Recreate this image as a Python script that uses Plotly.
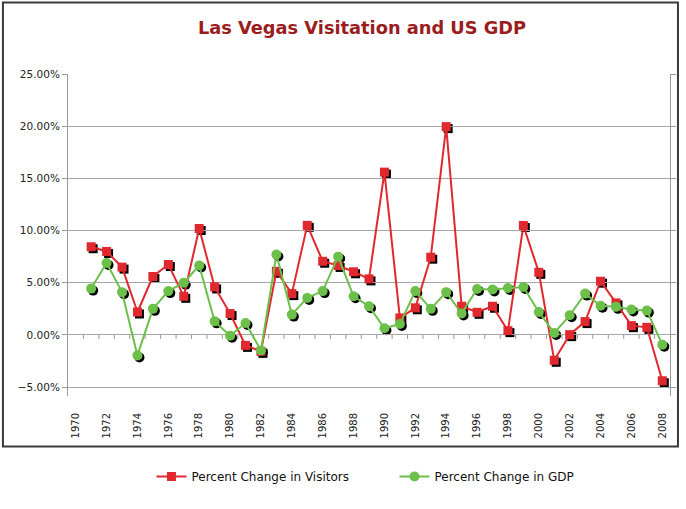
import plotly.graph_objects as go

# ---- data (percent change) ----
years = [1971, 1972, 1973, 1974, 1975, 1976, 1977, 1978, 1979, 1980,
         1981, 1982, 1983, 1984, 1985, 1986, 1987, 1988, 1989, 1990,
         1991, 1992, 1993, 1994, 1995, 1996, 1997, 1998, 1999, 2000,
         2001, 2002, 2003, 2004, 2005, 2006, 2007, 2008]
visitors_pct = [8.45, 8.0, 6.5, 2.2, 5.6, 6.75, 3.7, 10.2, 4.6, 2.05,
                -1.0, -1.57, 6.1, 3.96, 10.5, 7.06, 6.65, 6.05, 5.37, 15.6,
                1.63, 2.6, 7.45, 19.96, 2.75, 2.17, 2.75, 0.41, 10.49, 6.0,
                -2.43, 0.03, 1.28, 5.15, 3.07, 0.89, 0.73, -4.39]
gdp_pct = [4.44, 6.9, 4.1, -1.96, 2.5, 4.2, 5.0, 6.65, 1.3, -0.07,
           1.15, -1.48, 7.7, 1.95, 3.55, 4.2, 7.5, 3.7, 2.75, 0.64,
           1.05, 4.2, 2.5, 4.1, 2.05, 4.4, 4.35, 4.5, 4.6, 2.2,
           0.19, 1.88, 3.96, 2.8, 2.69, 2.43, 2.33, -0.93]
tick_years = [1970, 1972, 1974, 1976, 1978, 1980, 1982, 1984, 1986, 1988,
              1990, 1992, 1994, 1996, 1998, 2000, 2002, 2004, 2006, 2008]
y_ticks = [-0.05, 0.0, 0.05, 0.10, 0.15, 0.20, 0.25]

title_text = "Las Vegas Visitation and US GDP"
name_visitors = "Percent Change in Visitors"
name_gdp = "Percent Change in GDP"

# ---- styling / layout ----
W, H = 686, 509
ML, MR, MT, MB = 68, 10, 74, 111
PW, PH = W - ML - MR, H - MT - MB
SH = 2  # shadow offset in px

RED = "#E0292E"
GREEN = "#6CC04A"
GRID = "#A6A6A6"
FONT = "DejaVu Sans"

def px_x(px):
    return (px - ML) / PW

def px_y(py):
    return (H - MB - py) / PH

vis = [v / 100 for v in visitors_pct]
gdp = [v / 100 for v in gdp_pct]

xr = [years[0] - 1.5, years[-1] + 0.5]
yr = [-0.0585, 0.25]

fig = go.Figure()

# shadows (subplot x/y, shifted a couple pixels right/down)
fig.add_trace(go.Scatter(x=years, y=vis, mode="markers", xaxis="x", yaxis="y",
                         marker=dict(symbol="square", size=9, color="black"),
                         showlegend=False, hoverinfo="skip"))
fig.add_trace(go.Scatter(x=years, y=gdp, mode="markers", xaxis="x", yaxis="y",
                         marker=dict(symbol="circle", size=10, color="black"),
                         showlegend=False, hoverinfo="skip"))

# main series (subplot x2/y2, visible axes)
fig.add_trace(go.Scatter(x=years, y=vis, mode="lines+markers", name=name_visitors,
                         xaxis="x2", yaxis="y2",
                         line=dict(color=RED, width=2),
                         marker=dict(symbol="square", size=9, color=RED)))
fig.add_trace(go.Scatter(x=years, y=gdp, mode="lines+markers", name=name_gdp,
                         xaxis="x2", yaxis="y2",
                         line=dict(color=GREEN, width=2),
                         marker=dict(symbol="circle", size=10, color=GREEN)))

shapes = []
# category-boundary tick marks hanging from the zero line
for yv in [tick_years[0]] + years[:-1]:
    shapes.append(dict(type="line", xref="x2", yref="y2", x0=yv + 0.5, x1=yv + 0.5,
                       ysizemode="pixel", yanchor=0, y0=0, y1=-4,
                       line=dict(color="#999999", width=1), layer="below"))
# outer chart frame
shapes.append(dict(type="rect", xref="paper", yref="paper",
                   x0=px_x(2.5), x1=px_x(682), y0=px_y(446.5), y1=px_y(2.5),
                   line=dict(color="#3A3A3A", width=2), fillcolor="rgba(0,0,0,0)",
                   layer="below"))

dom_x_main = [0, (PW - SH) / PW]
dom_y_main = [SH / PH, 1]
dom_x_sh = [SH / PW, 1]
dom_y_sh = [0, (PH - SH) / PH]

fig.update_layout(
    width=W, height=H,
    margin=dict(l=ML, r=MR, t=MT, b=MB),
    paper_bgcolor="white", plot_bgcolor="rgba(0,0,0,0)",
    font=dict(family=FONT, color="#222222"),
    title=dict(text=title_text, x=px_x(364), xref="paper", xanchor="center",
               y=1 - 28 / H, yref="container", yanchor="middle",
               font=dict(family=FONT, size=17.8, color="#9B1C20", weight="bold")),
    xaxis=dict(domain=dom_x_sh, range=xr, visible=False, fixedrange=True),
    yaxis=dict(domain=dom_y_sh, range=yr, visible=False, fixedrange=True),
    xaxis2=dict(domain=dom_x_main, range=xr, anchor="y2",
                tickmode="array", tickvals=tick_years,
                ticktext=[str(t) for t in tick_years],
                tickangle=-90, ticks="", showgrid=False, zeroline=False,
                showline=False, ticklabelstandoff=14,
                tickfont=dict(family=FONT, size=10, color="#222222")),
    yaxis2=dict(domain=dom_y_main, range=yr, anchor="x2",
                tickmode="array", tickvals=y_ticks, tickformat=".2%",
                ticks="outside", ticklen=5, tickcolor="#999999",
                showline=True, linecolor="#999999", linewidth=1, mirror="ticks",
                showgrid=True, gridcolor=GRID, gridwidth=1, zeroline=False,
                tickfont=dict(family=FONT, size=10.5, color="#222222")),
    legend=dict(orientation="h", x=px_x(152), xanchor="left",
                y=px_y(476.5), yanchor="middle",
                font=dict(family=FONT, size=12, color="#111111"),
                entrywidth=198, entrywidthmode="pixels",
                bgcolor="rgba(0,0,0,0)"),
    shapes=shapes,
    showlegend=True,
)

fig.write_html("out.html",
               config={"displayModeBar": False},
               post_script="document.body.style.margin='0';document.body.style.padding='0';")
